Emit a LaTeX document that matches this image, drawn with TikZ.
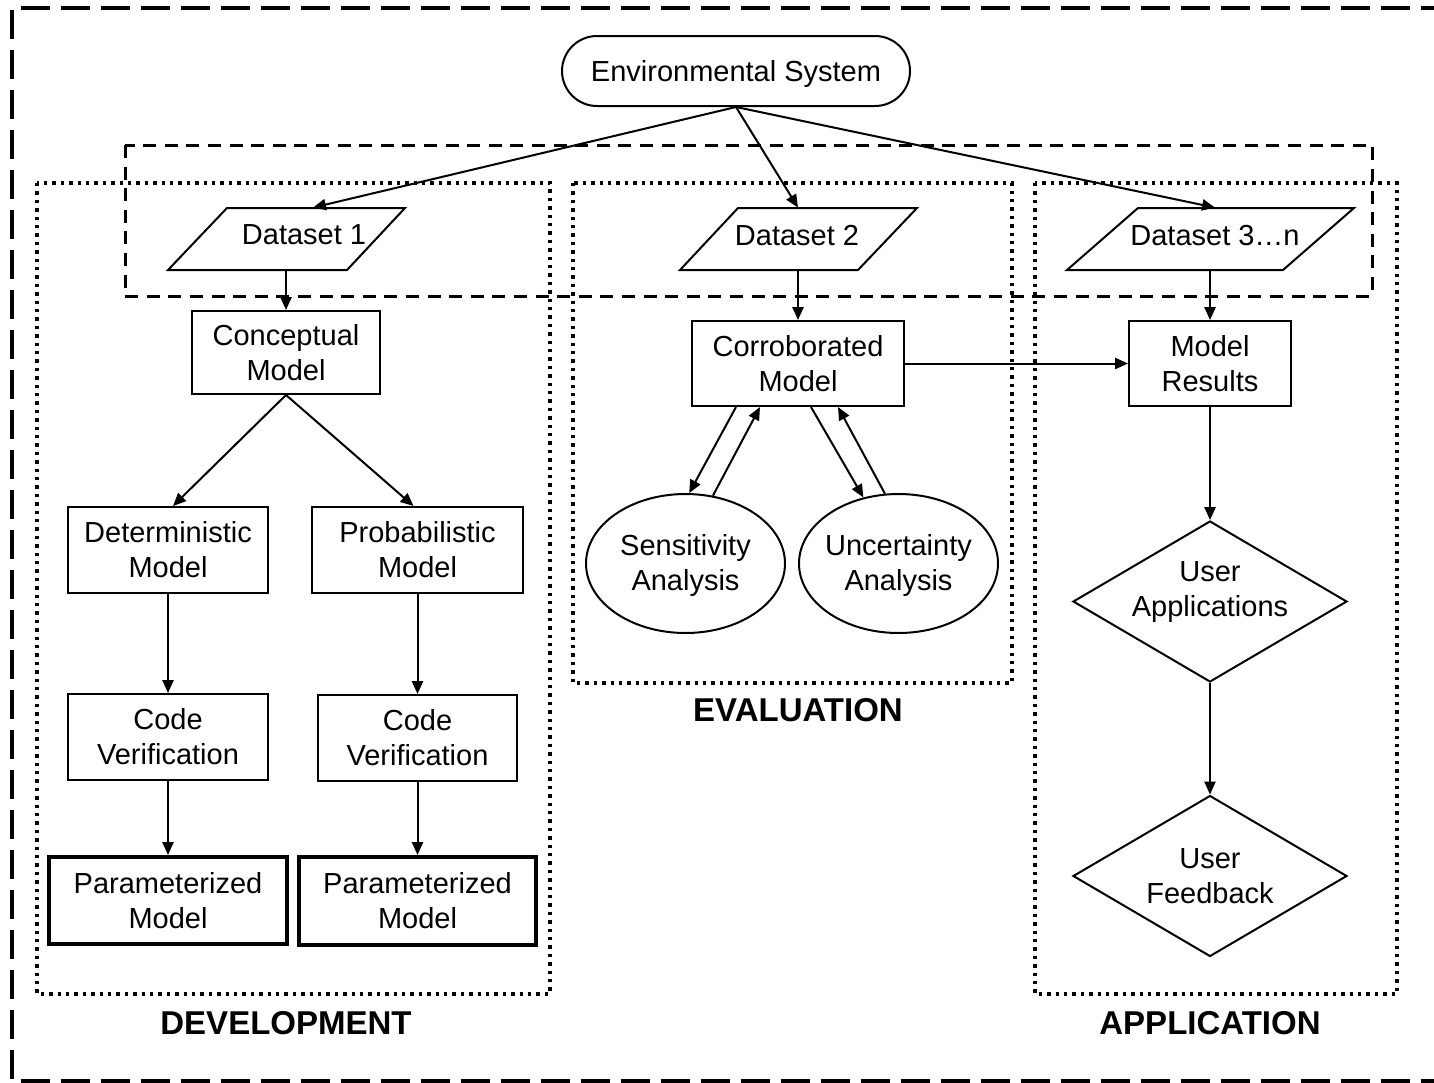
\documentclass[tikz,border=0pt]{standalone}
\usepackage{fontspec}
\setmainfont{Liberation Sans}
\usetikzlibrary{shapes.geometric,arrows.meta,calc}

\begin{document}
\begin{tikzpicture}[x=0.5pt,y=-0.5pt,
  txt/.style={font=\fontsize{14.5}{17.5}\selectfont,align=center},
  base/.style={txt,draw,line width=1pt,fill=white,inner sep=0pt},
  box/.style={base,rectangle},
  thickbox/.style={box,line width=2pt},
  oval/.style={base,ellipse},
  decision/.style={base,diamond,aspect=1.7,minimum width=137pt,minimum height=80.5pt},
  datatext/.style={txt,inner sep=0pt,minimum height=31pt,text depth=4pt},
  datashape/.style={draw,line width=1pt,fill=white,line join=miter},
  arr/.style={line width=1pt,-{Triangle[length=6.5pt,width=5.6pt]}},
  phase/.style={line width=1.7pt,dash pattern=on 1.7pt off 2.5pt},
  group/.style={line width=1.5pt,dash pattern=on 6.5pt off 4.3pt},
  frame/.style={line width=2pt,dash pattern=on 14.5pt off 5.5pt},
  phaselabel/.style={font=\fontsize{16.5}{20}\selectfont\bfseries}
]
\useasboundingbox (0,0) rectangle (1434,1082);
\clip (0,0) rectangle (1434,1082);

% outer frame
\draw[frame] (1450,1081) -- (12,1081) -- (12,8) -- (1450,8);

% phase boxes and dataset group
\draw[phase] (37,183) rectangle (550,994);
\draw[phase] (573,183) rectangle (1012,683);
\draw[phase] (1035,183) rectangle (1397,994);
\draw[group] (125,145) rectangle (1372,296);

% environmental system
\node[base,rounded corners=17.5pt,minimum width=174pt,minimum height=35pt,text depth=0pt] (env) at (736,71) {Environmental System};

% datasets
\draw[datashape] (168,270) -- (227,208) -- (405,208) -- (347,270) -- cycle;
\draw[datashape] (680,270) -- (738,208) -- (917,208) -- (858,270) -- cycle;
\draw[datashape] (1067,270) -- (1138,208) -- (1354,208) -- (1283,270) -- cycle;
\node[datatext] (ds1) at (304,239) {Dataset 1};
\node[datatext] (ds2) at (797,239) {Dataset 2};
\node[datatext] (ds3) at (1215,239) {Dataset 3…n};

% development
\node[box,minimum width=94pt,minimum height=41.5pt] (concept) at (286,352.5) {Conceptual\\Model};
\node[box,minimum width=100pt,minimum height=43pt] (det) at (168,550) {Deterministic\\Model};
\node[box,minimum width=105.5pt,minimum height=43pt] (prob) at (417.5,550) {Probabilistic\\Model};
\node[box,minimum width=100pt,minimum height=43pt] (cv1) at (168,737) {Code\\Verification};
\node[box,minimum width=99.5pt,minimum height=43pt] (cv2) at (417.5,738) {Code\\Verification};
\node[thickbox,minimum width=119pt,minimum height=43.5pt] (pm1) at (168,900.5) {Parameterized\\Model};
\node[thickbox,minimum width=118.5pt,minimum height=44pt] (pm2) at (417.5,901) {Parameterized\\Model};

% evaluation
\node[box,minimum width=106pt,minimum height=42.5pt] (corr) at (798,363.5) {Corroborated\\Model};
\node[oval,minimum width=99.5pt,minimum height=69.5pt,label={[txt,yshift=-1.2pt]center:{Sensitivity\\Analysis}}] (sens) at (685.5,563.5) {};
\node[oval,minimum width=99.5pt,minimum height=69.5pt,label={[txt,yshift=-1.2pt]center:{Uncertainty\\Analysis}}] (unc) at (898.5,563.5) {};

% application
\node[box,minimum width=81pt,minimum height=42.5pt] (results) at (1210,363.5) {Model\\Results};
\node[decision,label={[txt,yshift=4.8pt]center:{User\\Applications}}] (ua) at (1210,601.5) {};
\node[decision] (uf) at (1210,876) {User\\Feedback};

% phase titles
\node[phaselabel] (devlabel) at (286,1023) {DEVELOPMENT};
\node[phaselabel] (evallabel) at (798,710) {EVALUATION};
\node[phaselabel] (applabel) at (1210,1023) {APPLICATION};

% connectors
\draw[arr] (env.south) -- ([xshift=4.5pt]ds1.north);
\draw[arr] (env.south) -- ([xshift=0.5pt]ds2.north);
\draw[arr] (env.south) -- (ds3.north);

\draw[arr] (ds1.south -| concept.north) -- (concept.north);
\draw[arr] (concept.south) -- ([xshift=2.5pt]det.north);
\draw[arr] (concept.south) -- ([xshift=-2pt]prob.north);
\draw[arr] (det.south) -- (cv1.north);
\draw[arr] (cv1.south) -- (pm1.north);
\draw[arr] (prob.south) -- (cv2.north);
\draw[arr] (cv2.south) -- (pm2.north);

\draw[arr] (ds2.south -| corr.north) -- (corr.north);
\draw[arr] ([xshift=-31pt]corr.south) -- (sens.87);
\draw[arr] (sens.68) -- ([xshift=-19pt]corr.south);
\draw[arr] ([xshift=6.5pt]corr.south) -- (unc.118);
\draw[arr] (unc.101) -- ([xshift=20pt]corr.south);
\draw[arr] (corr.east) -- (results.west);

\draw[arr] (ds3.south -| results.north) -- (results.north);
\draw[arr] (results.south) -- (ua.north);
\draw[arr] (ua.south) -- (uf.north);
\end{tikzpicture}
\end{document}
